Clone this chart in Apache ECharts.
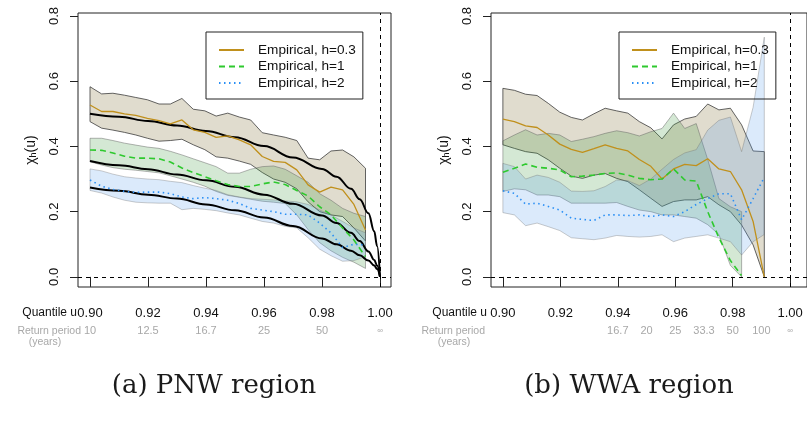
<!DOCTYPE html>
<html>
<head>
<meta charset="utf-8">
<script src="https://cdn.jsdelivr.net/npm/echarts@6/dist/echarts.min.js"></script>
<style>
  html, body { margin: 0; padding: 0; background: #fff; }
  #chart { width: 807px; height: 426px; }
</style>
</head>
<body>
<div id="chart"></div>
<script>
// quantile levels of the empirical estimates (shared by both regions)
var quantiles = [0.9000, 0.9040, 0.9079, 0.9119, 0.9158, 0.9198, 0.9238, 0.9277, 0.9317, 0.9356,
  0.9396, 0.9435, 0.9475, 0.9515, 0.9554, 0.9594, 0.9633, 0.9673, 0.9713, 0.9752,
  0.9792, 0.9831, 0.9871, 0.9910, 0.9950];

var xTicks = [0.90, 0.92, 0.94, 0.96, 0.98, 1.00];
var yTicks = [0, 0.2, 0.4, 0.6, 0.8];
var returnTicksPNW = [0.90, 0.92, 0.94, 0.96, 0.98, 1.00];
var returnLabelsPNW = ['10', '12.5', '16.7', '25', '50', '\u221e'];
var returnTicksWWA = [0.94, 0.95, 0.96, 0.97, 0.98, 0.99, 1.00];
var returnLabelsWWA = ['16.7', '20', '25', '33.3', '50', '100', '\u221e'];
var legendNames = ['Empirical, h=0.3', 'Empirical, h=1', 'Empirical, h=2'];

// (a) PNW region, empirical chi and band limits
var pnwH03 = [0.527, 0.507, 0.507, 0.500, 0.495, 0.486, 0.479, 0.469, 0.481, 0.451, 0.443, 0.428, 0.432,
  0.420, 0.405, 0.369, 0.354, 0.351, 0.328, 0.282, 0.260, 0.275, 0.267, 0.222, 0.144];
var pnwH03Hi = [0.583, 0.561, 0.563, 0.557, 0.550, 0.543, 0.530, 0.530, 0.547, 0.514, 0.509, 0.493, 0.502,
  0.490, 0.481, 0.442, 0.435, 0.428, 0.418, 0.364, 0.359, 0.386, 0.389, 0.368, 0.333];
var pnwH03Lo = [0.476, 0.456, 0.450, 0.443, 0.435, 0.425, 0.416, 0.418, 0.422, 0.405, 0.390, 0.368, 0.364,
  0.355, 0.345, 0.320, 0.300, 0.290, 0.270, 0.230, 0.200, 0.190, 0.185, 0.150, 0.110];
var pnwH1 = [0.389, 0.388, 0.380, 0.370, 0.364, 0.364, 0.362, 0.352, 0.334, 0.320, 0.307, 0.295, 0.283,
  0.277, 0.277, 0.285, 0.291, 0.283, 0.265, 0.248, 0.215, 0.190, 0.150, 0.113, 0.062];
var pnwH1Hi = [0.425, 0.425, 0.418, 0.410, 0.404, 0.398, 0.394, 0.385, 0.374, 0.362, 0.350, 0.338, 0.318,
  0.318, 0.330, 0.338, 0.340, 0.330, 0.310, 0.290, 0.255, 0.235, 0.210, 0.195, 0.185];
var pnwH1Lo = [0.353, 0.343, 0.335, 0.330, 0.327, 0.323, 0.319, 0.310, 0.300, 0.290, 0.278, 0.262, 0.250,
  0.244, 0.238, 0.232, 0.229, 0.225, 0.190, 0.145, 0.105, 0.080, 0.060, 0.045, 0.026];
var pnwH2 = [0.297, 0.278, 0.268, 0.262, 0.259, 0.260, 0.260, 0.255, 0.245, 0.240, 0.243, 0.240, 0.235,
  0.225, 0.210, 0.205, 0.200, 0.192, 0.192, 0.190, 0.165, 0.135, 0.090, 0.100, 0.098];
var pnwH2Hi = [0.331, 0.325, 0.315, 0.307, 0.303, 0.300, 0.298, 0.293, 0.289, 0.280, 0.272, 0.265, 0.252,
  0.245, 0.240, 0.238, 0.236, 0.233, 0.230, 0.222, 0.205, 0.190, 0.170, 0.150, 0.135];
var pnwH2Lo = [0.265, 0.257, 0.245, 0.235, 0.229, 0.227, 0.226, 0.226, 0.206, 0.210, 0.207, 0.203, 0.196,
  0.190, 0.180, 0.170, 0.165, 0.155, 0.150, 0.120, 0.085, 0.065, 0.048, 0.050, 0.062];

// (a) fitted model curves
var modelU = [0.90, 0.91, 0.92, 0.93, 0.94, 0.95, 0.96, 0.97, 0.98, 0.985, 0.99, 0.993, 0.996, 0.998, 0.999, 1.0];
var modelH03 = [0.500, 0.491, 0.478, 0.464, 0.447, 0.428, 0.401, 0.366, 0.331, 0.307, 0.270, 0.238, 0.195, 0.140, 0.095, 0.0];
var modelH1 = [0.355, 0.342, 0.330, 0.314, 0.296, 0.276, 0.252, 0.224, 0.188, 0.165, 0.135, 0.110, 0.078, 0.052, 0.035, 0.0];
var modelH2 = [0.274, 0.264, 0.252, 0.240, 0.222, 0.204, 0.182, 0.156, 0.118, 0.100, 0.080, 0.066, 0.050, 0.035, 0.024, 0.0];

// (b) WWA region
var wwaH03 = [0.484, 0.476, 0.463, 0.458, 0.435, 0.407, 0.391, 0.382, 0.393, 0.405, 0.394, 0.386, 0.360,
  0.339, 0.300, 0.331, 0.345, 0.341, 0.362, 0.331, 0.323, 0.267, 0.170, 0.000];
var wwaH03Hi = [0.578, 0.572, 0.560, 0.556, 0.532, 0.505, 0.489, 0.481, 0.500, 0.517, 0.509, 0.502, 0.476,
  0.457, 0.423, 0.466, 0.484, 0.492, 0.530, 0.512, 0.517, 0.466, 0.386, 0.384];
var wwaH03Lo = [0.405, 0.394, 0.384, 0.379, 0.359, 0.333, 0.309, 0.302, 0.312, 0.317, 0.302, 0.292, 0.267,
  0.241, 0.216, 0.231, 0.236, 0.236, 0.246, 0.221, 0.200, 0.159, 0.098, 0.000];
var wwaH1 = [0.321, 0.333, 0.346, 0.336, 0.333, 0.328, 0.307, 0.309, 0.312, 0.317, 0.319, 0.312, 0.302,
  0.298, 0.300, 0.331, 0.297, 0.294, 0.200, 0.120, 0.050, 0.004];
var wwaH1Hi = [0.417, 0.435, 0.451, 0.435, 0.440, 0.435, 0.415, 0.422, 0.430, 0.440, 0.448, 0.442, 0.432,
  0.445, 0.455, 0.502, 0.455, 0.470, 0.360, 0.240, 0.215, 0.200];
var wwaH1Lo = [0.262, 0.270, 0.267, 0.251, 0.251, 0.246, 0.226, 0.226, 0.226, 0.226, 0.228, 0.216, 0.205,
  0.200, 0.190, 0.190, 0.185, 0.180, 0.160, 0.130, 0.035, 0.000];
var wwaH2 = [0.264, 0.256, 0.223, 0.226, 0.216, 0.205, 0.180, 0.176, 0.173, 0.190, 0.190, 0.188, 0.190,
  0.185, 0.190, 0.185, 0.200, 0.222, 0.240, 0.255, 0.255, 0.175, 0.240, 0.305];
var wwaH2Hi = [0.348, 0.338, 0.300, 0.312, 0.305, 0.290, 0.263, 0.262, 0.264, 0.277, 0.297, 0.295, 0.280,
  0.300, 0.330, 0.360, 0.380, 0.390, 0.450, 0.480, 0.490, 0.384, 0.520, 0.735];
var wwaH2Lo = [0.197, 0.190, 0.157, 0.165, 0.154, 0.142, 0.120, 0.117, 0.114, 0.119, 0.127, 0.124, 0.122,
  0.124, 0.129, 0.108, 0.119, 0.124, 0.129, 0.119, 0.108, 0.067, 0.108, 0.130];

var FONT = '"Liberation Sans", Arial, Helvetica, sans-serif';
var BROWN = '#c0901c', GREEN = '#2ec92e', BLUE = '#2a8ff5';

function pairs(xs, ys) {
  return ys.map(function (y, i) { return [xs[i], y]; });
}

// confidence band as one polygon built from the axis scales
function bandSeries(idx, xs, lo, hi, fill, edge) {
  return {
    type: 'custom', xAxisIndex: idx, yAxisIndex: idx, silent: true, clip: true, z: 1,
    data: lo.map(function (v, i) { return [xs[i], v, hi[i]]; }),
    encode: { x: 0, y: [1, 2] },
    renderItem: function (params, api) {
      if (params.dataIndex !== 0) return null;
      var pts = [];
      for (var i = 0; i < lo.length; i++) pts.push(api.coord([xs[i], hi[i]]));
      for (var j = lo.length - 1; j >= 0; j--) pts.push(api.coord([xs[j], lo[j]]));
      return { type: 'polygon', shape: { points: pts }, style: { fill: fill, stroke: edge, lineWidth: 1 } };
    }
  };
}

function lineSeries(idx, name, xs, ys, color, dash, width, smooth) {
  return {
    type: 'line', name: name, xAxisIndex: idx, yAxisIndex: idx, silent: true, z: 3,
    data: pairs(xs, ys), symbol: 'none', smooth: smooth || false, smoothMonotone: 'x',
    itemStyle: { color: color },
    lineStyle: { color: color, width: width, type: dash, cap: 'butt' }
  };
}

function refLines(idx) {
  return {
    type: 'line', xAxisIndex: idx, yAxisIndex: idx, data: [], silent: true, z: 2,
    markLine: {
      silent: true, symbol: 'none', label: { show: false }, animation: false,
      lineStyle: { color: '#000', width: 1, type: [4, 4] },
      data: [{ yAxis: 0 }, { xAxis: 1 }]
    }
  };
}

function findLabel(ticks, labels, v) {
  for (var k = 0; k < ticks.length; k++) if (Math.abs(ticks[k] - v) < 1e-9) return labels[k];
  return '';
}

function xAxisFor(idx, xMax, rpTicks, rpLabels) {
  var all = xTicks.concat(rpTicks.filter(function (t) {
    return findLabel(xTicks, xTicks, t) === '';
  }));
  return {
    gridIndex: idx, type: 'value', min: 0.895862, max: xMax,
    axisLine: { show: false }, splitLine: { show: false },
    axisTick: { show: true, length: 10, customValues: xTicks, lineStyle: { color: '#222' } },
    axisLabel: {
      customValues: all, margin: 17, fontFamily: FONT,
      formatter: function (v) {
        var q = findLabel(xTicks, xTicks, v);
        var r = findLabel(rpTicks, rpLabels, v);
        var top = q === '' ? '{q| }' : '{q|' + q.toFixed(2) + '}';
        var bot = r === '' ? '{r| }' : (r === '\u221e' ? '{ri|' + r + '}' : '{r|' + r + '}');
        return top + '\n' + bot;
      },
      rich: {
        q: { fontSize: 13, color: '#111', lineHeight: 18, fontFamily: FONT },
        r: { fontSize: 11, color: '#a8a8a8', lineHeight: 18, fontFamily: FONT },
        ri: { fontSize: 8, color: '#a8a8a8', lineHeight: 18, fontFamily: FONT }
      }
    }
  };
}

function yAxisFor(idx) {
  return {
    gridIndex: idx, type: 'value', min: -0.031, max: 0.809,
    axisLine: { show: false }, splitLine: { show: false },
    axisTick: { show: true, length: 8, customValues: yTicks, lineStyle: { color: '#222' } },
    axisLabel: {
      customValues: yTicks, rotate: 90, margin: 17, fontSize: 13, color: '#111', fontFamily: FONT,
      formatter: function (v) { return v.toFixed(1); }
    },
    name: '{a|\u03c7}{b|h}{a|(u)}', nameLocation: 'middle', nameRotate: 90, nameGap: 40,
    nameTextStyle: {
      rich: {
        a: { fontSize: 14, color: '#111', fontFamily: FONT },
        b: { fontSize: 9, color: '#111', fontFamily: FONT, padding: [5, 0, 0, 0] }
      }
    }
  };
}

function legendFor(left) {
  return {
    left: left, top: 32, orient: 'vertical', data: legendNames, selectedMode: false,
    borderColor: '#222', borderWidth: 1, borderRadius: 0, backgroundColor: 'transparent',
    padding: [11, 7, 9, 12], itemWidth: 25, itemHeight: 14, itemGap: 2.5,
    itemStyle: { opacity: 0 },
    textStyle: { fontSize: 13.6, color: '#111', fontFamily: FONT, padding: [0, 0, 0, 9] }
  };
}

function textEl(x, y, text, size, color, align, family) {
  return {
    type: 'text', x: x, y: y, silent: true,
    style: { text: text, fontSize: size, fill: color, align: align, verticalAlign: 'middle', fontFamily: family || FONT }
  };
}

var chart = echarts.init(document.getElementById('chart'));

var series = [
  bandSeries(0, quantiles, pnwH03Lo, pnwH03Hi, 'rgba(130,115,60,0.25)', 'rgba(50,50,50,0.75)'),
  bandSeries(0, quantiles, pnwH1Lo, pnwH1Hi, 'rgba(60,150,60,0.22)', 'rgba(90,90,90,0.45)'),
  bandSeries(0, quantiles, pnwH2Lo, pnwH2Hi, 'rgba(90,160,235,0.22)', 'rgba(110,110,110,0.35)'),
  refLines(0),
  lineSeries(0, 'model h=0.3', modelU, modelH03, '#000', 'solid', 2, 0.4),
  lineSeries(0, 'model h=1', modelU, modelH1, '#000', 'solid', 2, 0.4),
  lineSeries(0, 'model h=2', modelU, modelH2, '#000', 'solid', 2, 0.4),
  lineSeries(0, legendNames[0], quantiles, pnwH03, BROWN, 'solid', 1.3),
  lineSeries(0, legendNames[1], quantiles, pnwH1, GREEN, [6, 4], 1.6),
  lineSeries(0, legendNames[2], quantiles, pnwH2, BLUE, [1.5, 3.5], 1.6),

  bandSeries(1, quantiles, wwaH03Lo, wwaH03Hi, 'rgba(130,115,60,0.25)', 'rgba(50,50,50,0.75)'),
  bandSeries(1, quantiles, wwaH1Lo, wwaH1Hi, 'rgba(60,150,60,0.22)', 'rgba(90,90,90,0.45)'),
  bandSeries(1, quantiles, wwaH2Lo, wwaH2Hi, 'rgba(90,160,235,0.22)', 'rgba(110,110,110,0.35)'),
  refLines(1),
  lineSeries(1, legendNames[0], quantiles, wwaH03, BROWN, 'solid', 1.3),
  lineSeries(1, legendNames[1], quantiles, wwaH1, GREEN, [6, 4], 1.6),
  lineSeries(1, legendNames[2], quantiles, wwaH2, BLUE, [1.5, 3.5], 1.6)
];

chart.setOption({
  animation: false,
  backgroundColor: '#fff',
  grid: [
    { left: 78, top: 13, width: 313, height: 274, show: true, borderColor: '#222', borderWidth: 1, backgroundColor: 'transparent' },
    { left: 491, top: 13, width: 319, height: 274, show: true, borderColor: '#222', borderWidth: 1, backgroundColor: 'transparent' }
  ],
  xAxis: [
    xAxisFor(0, 0.895862 + 313 / 2900, returnTicksPNW, returnLabelsPNW),
    xAxisFor(1, 0.895862 + 319 / 2900, returnTicksWWA, returnLabelsWWA)
  ],
  yAxis: [yAxisFor(0), yAxisFor(1)],
  legend: [legendFor(206), legendFor(619)],
  series: series,
  graphic: [
    textEl(77, 313, 'Quantile u', 12, '#111', 'right'),
    textEl(81, 331, 'Return period', 10.5, '#a8a8a8', 'right'),
    textEl(45, 342, '(years)', 10.5, '#a8a8a8', 'center'),
    textEl(487, 313, 'Quantile u', 12, '#111', 'right'),
    textEl(485, 331, 'Return period', 10.5, '#a8a8a8', 'right'),
    textEl(454, 342, '(years)', 10.5, '#a8a8a8', 'center'),
    textEl(214, 386, '(a) PNW region', 26, '#1a1a1a', 'center', '"DejaVu Serif", serif'),
    textEl(629, 386, '(b) WWA region', 26, '#1a1a1a', 'center', '"DejaVu Serif", serif')
  ]
});
</script>
</body>
</html>
